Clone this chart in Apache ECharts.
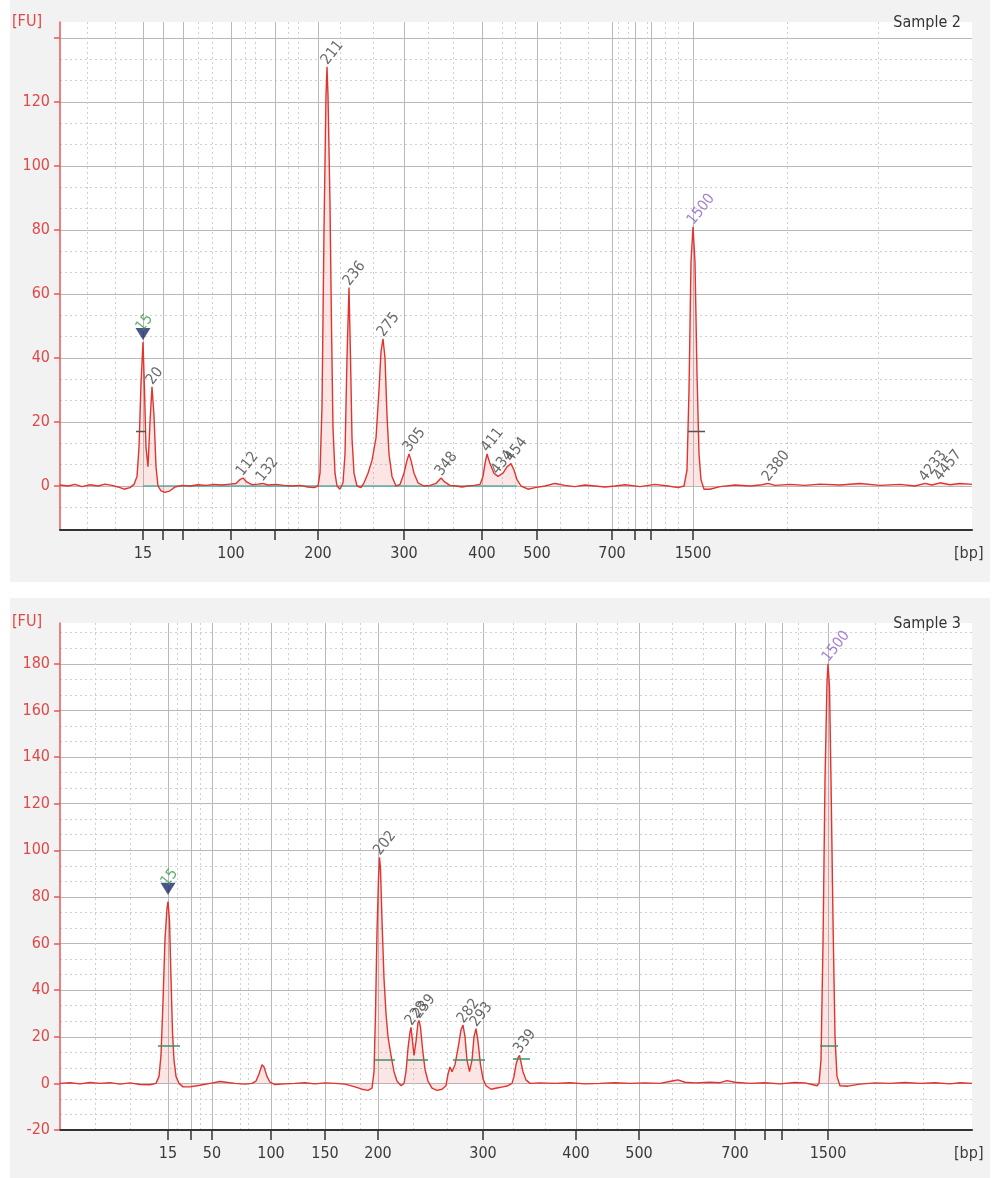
<!DOCTYPE html>
<html>
<head>
<meta charset="utf-8">
<script src="https://cdn.jsdelivr.net/npm/echarts@6/dist/echarts.min.js"></script>
<style>html,body{margin:0;padding:0;background:#fff}#c{width:992px;height:1178px}</style>
</head>
<body>
<div id="c"></div>
<script>
// ---------- DATA (x = migration time in s, y = fluorescence [FU]) ----------
const LADDER_BP = [15, 25, 50, 100, 150, 200, 300, 400, 500, 700, 850, 1000, 1500];

// Sample 2
const S2_LADDER_T = [28.3, 30.3, 32.3, 37.1, 41.5, 45.8, 54.4, 62.2, 67.7, 75.2, 77.5, 79.1, 83.3];
const S2_LABELED_BP = [15, 100, 200, 300, 400, 500, 700, 1500];
const S2_MINOR_T = [22.7, 25.5, 33.8, 35.2, 38.5, 39.5, 42.8, 43.8, 48.0, 51.3, 56.8, 59.3, 64.2, 65.5, 70.0, 72.8, 75.8, 76.8, 78.7, 80.5, 81.8, 92.7, 101.8];
const S2_Y_TICKS = [0, 20, 40, 60, 80, 100, 120, 140];
const S2_Y_LABELS = [0, 20, 40, 60, 80, 100, 120];
const S2_Y_MINOR = [-6.67, 6.67, 13.33, 26.67, 33.33, 46.67, 53.33, 66.67, 73.33, 86.67, 93.33, 106.67, 113.33, 126.67, 133.33];
const S2_TRACE = [
  [20.0,0.3],[20.8,0],[21.5,0.5],[22.2,-0.2],[23.0,0.4],[23.8,0],[24.5,0.6],[25.2,0.2],[25.8,-0.3],[26.4,-1.0],
  [27.0,-0.5],[27.4,0.5],[27.7,3],[27.9,12],[28.1,32],[28.3,45],[28.45,30],[28.6,12],[28.8,6],[29.0,20],
  [29.2,31],[29.4,22],[29.6,6],[29.8,0],[30.1,-1.5],[30.5,-2],[31.0,-1.5],[31.5,-0.3],[32.2,0.2],[33.0,0],
  [33.8,0.4],[34.6,0.2],[35.4,0.5],[36.2,0.3],[37.0,0.6],[37.6,0.8],[38.0,2.0],[38.3,2.5],[38.7,1.2],[39.2,0.4],
  [39.8,0.6],[40.3,0.8],[40.8,0.3],[41.6,0.5],[42.4,0.2],[43.2,0],[44.0,0.2],[44.8,-0.3],[45.4,-0.5],[45.8,0],
  [46.0,4],[46.2,25],[46.4,80],[46.6,122],[46.7,131],[46.8,122],[47.0,88],[47.15,50],[47.3,18],[47.5,4],
  [47.7,0],[48.0,-1],[48.3,1],[48.5,10],[48.7,40],[48.9,62],[49.05,40],[49.2,15],[49.4,4],[49.7,0],
  [50.1,-0.5],[50.4,1],[50.8,4],[51.2,8],[51.6,15],[51.9,30],[52.1,42],[52.3,46],[52.5,40],[52.7,22],
  [52.9,10],[53.2,3],[53.6,0],[54.0,0.5],[54.4,4],[54.7,8],[54.9,10],[55.1,8],[55.4,4],[55.8,1],
  [56.4,0],[57.0,0.2],[57.6,0.8],[58.1,2.5],[58.5,1.2],[59.0,0.2],[59.6,0],[60.2,-0.3],[60.8,0],[61.4,0.2],
  [62.0,0.5],[62.3,3],[62.5,7],[62.7,10],[63.0,7],[63.4,4],[63.8,3],[64.3,4],[64.7,6],[65.1,7],
  [65.4,5],[65.7,2],[66.1,0],[66.8,-1],[67.5,-0.5],[68.5,0],[69.5,0.8],[70.5,0.2],[71.5,-0.2],[72.5,0.3],
  [73.5,0],[74.5,-0.3],[75.5,0],[76.5,0.4],[78.0,-0.2],[79.5,0.5],[80.8,0],[81.8,-0.5],[82.4,0],[82.7,5],
  [82.9,30],[83.1,70],[83.3,81],[83.5,70],[83.7,35],[83.9,10],[84.1,2],[84.4,-1],[85.0,-1],[86.0,-0.2],
  [87.5,0.3],[89.0,0],[90.2,0.4],[90.8,0.8],[91.5,0.2],[93.0,0.5],[94.5,0.2],[96.0,0.6],[98.0,0.3],[100.0,0.8],
  [102.0,0.2],[104.0,0.5],[105.5,0],[106.5,0.8],[107.2,0.3],[108.0,1.0],[109.0,0.4],[110.0,0.8],[111.2,0.5]
];
// [time, height, label, kind]
const S2_PEAKS = [
  [29.2,31,'20'],[38.2,2.5,'112'],[40.2,0.8,'132'],[46.7,131,'211'],[48.9,62,'236'],[52.3,46,'275'],
  [54.9,10,'305'],[58.1,2.5,'348'],[62.7,10,'411'],[63.7,3,'434'],[65.1,7,'454'],[83.3,81,'1500','upper'],
  [90.8,0.8,'2380'],[106.5,0.8,'4233'],[108.0,1.0,'4457']
];
const S2_LOWER_MARKER = [28.3, 47.5, '15'];
const S2_HALF_MARKS = [[27.6, 28.6, 17], [82.8, 84.5, 17]];
const S2_BASELINE = [[28.3, 0], [65.7, 0]];

// Sample 3
const S3_LADDER_T = [30.8, 33.1, 35.2, 41.1, 46.5, 51.8, 62.3, 71.6, 77.9, 87.5, 90.5, 92.2, 96.8];
const S3_LABELED_BP = [15, 50, 100, 150, 200, 300, 400, 500, 700, 1500];
const S3_MINOR_T = [23.5, 27.0, 31.7, 34.0, 38.0, 38.8, 42.8, 44.7, 48.2, 50.0, 55.3, 58.7, 65.3, 68.5, 73.7, 75.7, 81.2, 84.3, 88.5, 93.8, 101.5, 106.3];
const S3_Y_TICKS = [-20, 0, 20, 40, 60, 80, 100, 120, 140, 160, 180];
const S3_Y_MINOR = [-13.33, -6.67, 6.67, 13.33, 26.67, 33.33, 46.67, 53.33, 66.67, 73.33, 86.67, 93.33, 106.67, 113.33, 126.67, 133.33, 146.67, 153.33, 166.67, 173.33, 186.67, 193.33];
const S3_TRACE = [
  [20.0,0],[21.0,0.3],[22.0,-0.2],[23.0,0.4],[24.0,0],[25.0,0.3],[26.0,-0.3],[27.0,0.2],[28.0,-0.5],[29.0,-0.6],
  [29.6,0],[29.9,3],[30.1,12],[30.3,35],[30.5,62],[30.7,75],[30.8,78],[30.95,70],[31.1,45],[31.25,22],
  [31.4,10],[31.6,3],[31.9,0],[32.3,-1.5],[33.0,-1.5],[34.0,-0.8],[35.0,0],[36.0,0.8],[36.6,0.5],[37.5,0],
  [38.5,-0.3],[39.2,0],[39.6,1],[39.9,4],[40.2,8],[40.4,7],[40.7,3],[41.0,0.5],[41.5,-0.5],[42.5,-0.2],
  [43.5,0],[44.5,0.3],[45.5,-0.2],[46.5,0.2],[47.5,0],[48.5,-0.3],[49.5,-1.5],[50.2,-2.5],[50.8,-3],[51.2,-2],
  [51.4,5],[51.55,30],[51.7,65],[51.85,88],[51.95,97],[52.05,92],[52.2,70],[52.4,45],[52.6,30],[52.8,20],
  [53.1,12],[53.4,5],[53.7,1],[54.1,-1],[54.4,0],[54.6,5],[54.8,15],[55.0,22],[55.1,24],[55.25,18],
  [55.4,12],[55.6,18],[55.8,26],[55.9,27],[56.05,24],[56.25,15],[56.5,6],[56.8,1],[57.2,-2],[57.7,-3],
  [58.2,-2.5],[58.6,-1],[58.8,4],[59.0,7],[59.2,5],[59.5,8],[59.8,15],[60.1,23],[60.3,25],[60.5,20],
  [60.7,10],[60.95,5],[61.2,10],[61.4,20],[61.6,23.5],[61.8,18],[62.05,8],[62.3,2],[62.6,-1],[63.1,-2.5],
  [63.7,-2],[64.3,-1.5],[64.8,-1],[65.2,0],[65.4,3],[65.6,8],[65.8,11],[65.95,12],[66.1,9],[66.3,5],
  [66.6,1.5],[67.0,0],[68.0,0.2],[69.5,0],[71.0,0.3],[72.5,-0.2],[74.0,0],[75.5,0.3],[77.0,0],[78.5,0.2],
  [80.0,0],[81.2,1],[81.8,1.5],[82.5,0.5],[83.5,0.2],[85.0,0.5],[86.0,0.3],[86.7,1.2],[87.5,0.5],[89.0,0],
  [90.5,0.3],[92.0,-0.2],[93.5,0.4],[94.5,0.2],[95.2,-0.5],[95.7,-1],[95.9,0],[96.1,10],[96.3,60],[96.5,130],
  [96.7,172],[96.8,180],[96.95,170],[97.1,130],[97.3,70],[97.5,20],[97.7,3],[98.0,-1],[98.8,-1.2],[100.0,-0.3],
  [101.5,0.2],[103.0,0],[104.5,0.4],[106.0,0],[107.5,0.3],[109.0,-0.2],[110.0,0.3],[111.2,0]
];
const S3_PEAKS = [
  [51.95,97,'202'],[55.1,24,'228'],[55.9,27,'239'],[60.3,25,'282'],[61.6,23.5,'293'],[65.95,12,'339'],
  [96.8,180,'1500','upper']
];
const S3_LOWER_MARKER = [30.8, 83.5, '15'];
const S3_HALF_MARKS = [[29.8, 32.0, 16], [51.5, 53.5, 10], [54.7, 56.8, 10], [59.3, 62.5, 10], [65.3, 67.0, 10.5], [96.0, 97.8, 16]];

// ---------- STYLE ----------
const FONT = '"DejaVu Sans Condensed","DejaVu Sans",sans-serif';
const RED = '#e0342e';
const AXIS_RED = '#e8585a';
const GRID_SOLID = '#b9b9b9';
const GRID_DASH = '#cfcfcf';
const TEXT = '#3a3a3a';
const GREEN = '#3c9a4a';
const PURPLE = '#8e63c4';
const MARK_GREEN = '#3f8f66';

function bpFormatter(times) {
  return function (v) {
    for (let i = 0; i < times.length; i++) if (Math.abs(times[i] - v) < 0.01) return String(LADDER_BP[i]);
    return '';
  };
}
function labeledTimes(times, labeled) {
  return labeled.map(b => times[LADDER_BP.indexOf(b)]);
}

function xAxes(gi, times, labeled, minor) {
  return [{
    gridIndex: gi, type: 'value', min: 20, max: 111.2, position: 'bottom',
    axisLine: { show: true, onZero: false, lineStyle: { color: '#333', width: 2 } },
    axisTick: { show: true, inside: false, length: 10, customValues: times, lineStyle: { color: '#333', width: 1.5 } },
    axisLabel: { show: true, customValues: labeledTimes(times, labeled), formatter: bpFormatter(times), margin: 16,
      color: TEXT, fontSize: 16, fontFamily: FONT },
    splitLine: { show: true, lineStyle: { color: GRID_SOLID, width: 1 } }
  }, {
    gridIndex: gi, type: 'value', min: 20, max: 111.2, position: 'top',
    axisLine: { show: false }, axisLabel: { show: false },
    axisTick: { show: false, customValues: minor },
    splitLine: { show: true, lineStyle: { color: GRID_DASH, width: 1, type: [2, 3] } }
  }];
}
function yAxes(gi, min, max, ticks, labels, minor) {
  return [{
    gridIndex: gi, type: 'value', min: min, max: max, position: 'left',
    axisLine: { show: true, onZero: false, lineStyle: { color: AXIS_RED, width: 1.5 } },
    axisTick: { show: true, length: 6, customValues: ticks, lineStyle: { color: AXIS_RED, width: 1.5 } },
    axisLabel: { show: true, customValues: labels, color: '#e04848', fontSize: 16, fontFamily: FONT, margin: 10 },
    splitLine: { show: true, lineStyle: { color: GRID_SOLID, width: 1 } }
  }, {
    gridIndex: gi, type: 'value', min: min, max: max, position: 'right',
    axisLine: { show: false }, axisLabel: { show: false },
    axisTick: { show: false, customValues: minor },
    splitLine: { show: true, lineStyle: { color: GRID_DASH, width: 1, type: [2, 3] } }
  }];
}

function peakLabelSeries(xi, yi, peaks) {
  return {
    type: 'scatter', xAxisIndex: xi, yAxisIndex: yi, z: 6, symbolSize: 2,
    itemStyle: { color: 'rgba(0,0,0,0)' },
    silent: true,
    data: peaks.map(p => ({
      value: [p[0], p[1]], name: p[2],
      label: { color: p[3] === 'upper' ? PURPLE : '#444' }
    })),
    label: { show: true, position: 'top', distance: 6, rotate: 52, align: 'left', verticalAlign: 'middle',
      offset: [-4, 0], formatter: '{b}', fontSize: 15, fontFamily: FONT }
  };
}
function markerSeries(xi, yi, m) {
  return {
    type: 'scatter', xAxisIndex: xi, yAxisIndex: yi, z: 7, symbol: 'triangle', symbolRotate: 180,
    symbolSize: [15, 12], itemStyle: { color: '#1d2a6b' }, silent: true,
    data: [{ value: [m[0], m[1]], name: m[2] }],
    label: { show: true, position: 'top', distance: 3, rotate: 52, align: 'left', verticalAlign: 'middle',
      offset: [-6, 0], formatter: '{b}', color: GREEN, fontSize: 15, fontFamily: FONT }
  };
}
function traceSeries(xi, yi, data) {
  return {
    type: 'line', xAxisIndex: xi, yAxisIndex: yi, z: 3, data: data, showSymbol: false, symbol: 'none',
    lineStyle: { color: RED, width: 1.4 }, areaStyle: { color: 'rgba(238,120,120,0.28)' }, silent: true
  };
}
function halfMarkSeries(xi, yi, marks, color) {
  return marks.map(m => ({
    type: 'line', xAxisIndex: xi, yAxisIndex: yi, z: 5, symbol: 'none', silent: true,
    data: [[m[0], m[2]], [m[1], m[2]]], lineStyle: { color: color, width: 1.5 }
  }));
}

const chart = echarts.init(document.getElementById('c'), null, { renderer: 'canvas' });
const option = {
  animation: false,
  backgroundColor: '#ffffff',
  graphic: [
    { type: 'rect', z: -100, shape: { x: 10, y: 0, width: 980, height: 582 }, style: { fill: '#f2f2f2' } },
    { type: 'rect', z: -100, shape: { x: 10, y: 598, width: 980, height: 580 }, style: { fill: '#f2f2f2' } },
    { type: 'text', left: 12, top: 14, style: { text: '[FU]', fill: '#e04848', font: '16px ' + FONT } },
    { type: 'text', left: 12, top: 614, style: { text: '[FU]', fill: '#e04848', font: '16px ' + FONT } },
    { type: 'text', left: 954, top: 546, style: { text: '[bp]', fill: TEXT, font: '16px ' + FONT } },
    { type: 'text', left: 954, top: 1146, style: { text: '[bp]', fill: TEXT, font: '16px ' + FONT } }
  ],
  title: [
    { text: 'Sample 2', right: 26, top: 10, textStyle: { color: '#333', fontSize: 16, fontWeight: 'normal', fontFamily: FONT } },
    { text: 'Sample 3', right: 26, top: 611, textStyle: { color: '#333', fontSize: 16, fontWeight: 'normal', fontFamily: FONT } }
  ],
  grid: [
    { left: 60, top: 22, width: 912, height: 508, show: true, backgroundColor: '#ffffff', borderWidth: 0 },
    { left: 60, top: 623, width: 912, height: 507, show: true, backgroundColor: '#ffffff', borderWidth: 0 }
  ],
  xAxis: [].concat(
    xAxes(0, S2_LADDER_T, S2_LABELED_BP, S2_MINOR_T),
    xAxes(1, S3_LADDER_T, S3_LABELED_BP, S3_MINOR_T)
  ),
  yAxis: [].concat(
    yAxes(0, -13.75, 145, S2_Y_TICKS, S2_Y_LABELS, S2_Y_MINOR),
    yAxes(1, -20, 197.5, S3_Y_TICKS, S3_Y_TICKS, S3_Y_MINOR)
  ),
  series: [].concat(
    [{ type: 'line', xAxisIndex: 0, yAxisIndex: 0, z: 2, symbol: 'none', silent: true, data: S2_BASELINE,
       lineStyle: { color: '#4fb3a9', width: 1.5 } }],
    [traceSeries(0, 0, S2_TRACE)],
    halfMarkSeries(0, 0, S2_HALF_MARKS, '#555555'),
    [peakLabelSeries(0, 0, S2_PEAKS), markerSeries(0, 0, S2_LOWER_MARKER)],
    [traceSeries(2, 2, S3_TRACE)],
    halfMarkSeries(2, 2, S3_HALF_MARKS, MARK_GREEN),
    [peakLabelSeries(2, 2, S3_PEAKS), markerSeries(2, 2, S3_LOWER_MARKER)]
  )
};
chart.setOption(option);
</script>
</body>
</html>
